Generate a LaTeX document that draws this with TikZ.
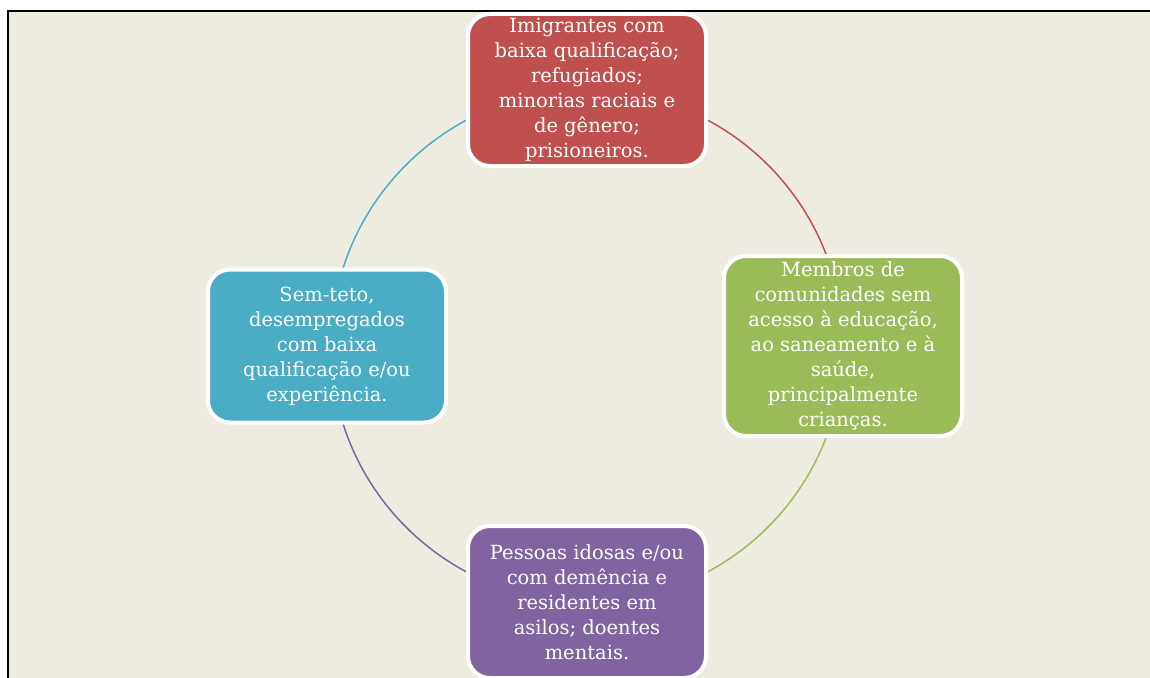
\documentclass[tikz,border=0pt]{standalone}
\usepackage{fontspec}
\setmainfont{DejaVu Serif}
\usepackage{xcolor}
\usepackage{tikz}
\usetikzlibrary{backgrounds}
\definecolor{pageback}{HTML}{EEECE1}
\definecolor{boxred}{HTML}{C0504D}
\definecolor{boxgreen}{HTML}{9BBB59}
\definecolor{boxblue}{HTML}{4BACC6}
\definecolor{boxpurple}{HTML}{8064A2}
\tikzset{
  grupo/.style={draw=white, line width=4pt, rounded corners=22pt, text=white, align=center,
    minimum width=238pt, inner sep=0pt, font=\fontsize{19.5}{25}\selectfont},
  anel/.style={line width=1.5pt},
}

\begin{document}
\begin{tikzpicture}
\useasboundingbox (0,0) rectangle (1150pt,-677pt);
\node[grupo, fill=boxred, minimum height=152pt] (imig) at (587pt,-90pt)
  {Imigrantes com\\baixa qualificação;\\refugiados;\\minorias raciais e\\de gênero;\\prisioneiros.};
\node[grupo, fill=boxgreen, minimum height=180pt] (membros) at (843pt,-346pt)
  {Membros de\\comunidades sem\\acesso à educação,\\ao saneamento e à\\saúde,\\principalmente\\crianças.};
\node[grupo, fill=boxpurple, minimum height=152pt] (pessoas) at (587pt,-602pt)
  {Pessoas idosas e/ou\\com demência e\\residentes em\\asilos; doentes\\mentais.};
\node[grupo, fill=boxblue, minimum height=153pt] (semteto) at (327pt,-346pt)
  {Sem-teto,\\desempregados\\com baixa\\qualificação e/ou\\experiência.};
\begin{scope}[on background layer]
\draw[fill=pageback, line width=2pt] (8pt,-11pt) rectangle (1170pt,-700pt);
\draw[anel, boxred] (imig.center) arc[start angle=90, end angle=0, radius=256pt];
\draw[anel, boxgreen] (membros.center) arc[start angle=0, end angle=-90, radius=256pt];
\draw[anel, boxpurple] (pessoas.center) arc[start angle=270, end angle=180, radius=256pt];
\draw[anel, boxblue] (imig.center) arc[start angle=90, end angle=180, radius=256pt];
\end{scope}
\end{tikzpicture}
\end{document}
